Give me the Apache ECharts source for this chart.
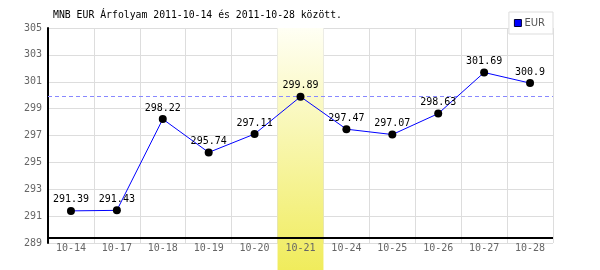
<!DOCTYPE html>
<html>
<head>
<meta charset="utf-8">
<script src="https://cdn.jsdelivr.net/npm/echarts@6/dist/echarts.min.js"></script>
<style>
    html, body { margin: 0; padding: 0; background: #fff; }
    #chart { width: 600px; height: 270px; }
</style>
</head>
<body>
<div id="chart"></div>
<script>
var days = ['10-14', '10-17', '10-18', '10-19', '10-20', '10-21', '10-24', '10-25', '10-26', '10-27', '10-28'];
var eur = [291.39, 291.43, 298.22, 295.74, 297.11, 299.89, 297.47, 297.07, 298.63, 301.69, 300.9];
var highlightDay = '10-21';
var highlightValue = 299.89;
var axisBaseValue = 289.37;
var yTicks = {min: 289, max: 305, step: 2};

var mono = 'DejaVu Sans Mono';

function line_eur(div) {
    var myChart = echarts.init(div);
    option = {
        animation: false,
        title: {
            text: 'MNB EUR Árfolyam 2011-10-14 és 2011-10-28 között.',
            left: 48,
            top: 5,
            textStyle: {
                fontFamily: mono,
                fontSize: 9.8,
                fontWeight: 'normal',
                color: '#000'
            }
        },
        legend: {
            right: 47,
            top: 12,
            itemWidth: 7,
            itemHeight: 7,
            itemGap: 3,
            padding: [6, 8, 6, 5],
            borderColor: '#dddddd',
            borderWidth: 1,
            backgroundColor: '#fff',
            icon: 'rect',
            textStyle: {
                fontFamily: 'DejaVu Sans',
                fontSize: 10,
                color: '#555',
                padding: [0, 0, 0, -2]
            },
            data: [{name: 'EUR', itemStyle: {color: '#0000ff', borderColor: '#000033', borderWidth: 1}}]
        },
        grid: {
            left: 48,
            right: 47,
            top: 28,
            bottom: 27
        },
        xAxis: [
            {
                // grid lines only, under the yellow band
                type: 'category',
                data: days,
                position: 'bottom',
                boundaryGap: true,
                axisLine: {show: false},
                axisTick: {show: false},
                axisLabel: {show: false},
                splitLine: {show: true, lineStyle: {color: '#dddddd', width: 1}},
                z: 0
            },
            {
                // labels only, on top of the band
                type: 'category',
                data: days,
                position: 'bottom',
                boundaryGap: true,
                axisLine: {show: false},
                axisTick: {show: false},
                axisLabel: {
                    fontFamily: mono,
                    fontSize: 10,
                    color: '#666',
                    margin: 5,
                    verticalAlign: 'middle'
                },
                splitLine: {show: false},
                z: 20
            }
        ],
        yAxis: {
            type: 'value',
            min: yTicks.min,
            max: yTicks.max,
            interval: yTicks.step,
            axisLine: {show: true, lineStyle: {color: '#000', width: 2}},
            axisTick: {show: false},
            axisLabel: {
                fontFamily: mono,
                fontSize: 10,
                color: '#666',
                margin: 6
            },
            splitLine: {show: true, lineStyle: {color: '#dddddd', width: 1}},
            z: 0
        },
        series: [
            {
                // dashed reference line at the highlighted day's rate, kept under the yellow band
                name: 'ref',
                type: 'line',
                data: [],
                z: 0,
                silent: true,
                markLine: {
                    silent: true,
                    symbol: ['none', 'none'],
                    label: {show: false},
                    data: [{yAxis: highlightValue}],
                    lineStyle: {color: '#8888ff', type: [4, 3], width: 1}
                }
            },
            {
                name: 'EUR',
                type: 'line',
                data: eur,
                color: '#0000ff',
                lineStyle: {color: '#0000ff', width: 1},
                symbol: 'circle',
                symbolSize: 8,
                itemStyle: {color: '#000'},
                label: {
                    show: true,
                    position: 'top',
                    distance: 2,
                    fontFamily: mono,
                    fontSize: 10,
                    color: '#000'
                },
                z: 10,
                markLine: {
                    silent: true,
                    symbol: ['none', 'none'],
                    label: {show: false},
                    data: [{yAxis: axisBaseValue}],
                    lineStyle: {color: '#000', type: 'solid', width: 2}
                }
            }
        ]
    };
    myChart.setOption(option, true);

    // yellow band on the highlighted day, running to the bottom of the picture
    var idx = days.indexOf(highlightDay);
    var cx = myChart.convertToPixel({xAxisIndex: 0}, idx);
    var bw = (600 - 48 - 47) / days.length;
    var top = myChart.convertToPixel({yAxisIndex: 0}, yTicks.max);
    myChart.setOption({
        graphic: [{
            type: 'rect',
            z: 1,
            silent: true,
            shape: {x: cx - bw / 2, y: top, width: bw, height: 270 - top},
            style: {
                fill: new echarts.graphic.LinearGradient(0, 0, 0, 1, [
                    {offset: 0, color: '#fffff4'},
                    {offset: 1, color: '#f0ec5c'}
                ])
            }
        }]
    });
}

line_eur(document.getElementById('chart'));
</script>
</body>
</html>
